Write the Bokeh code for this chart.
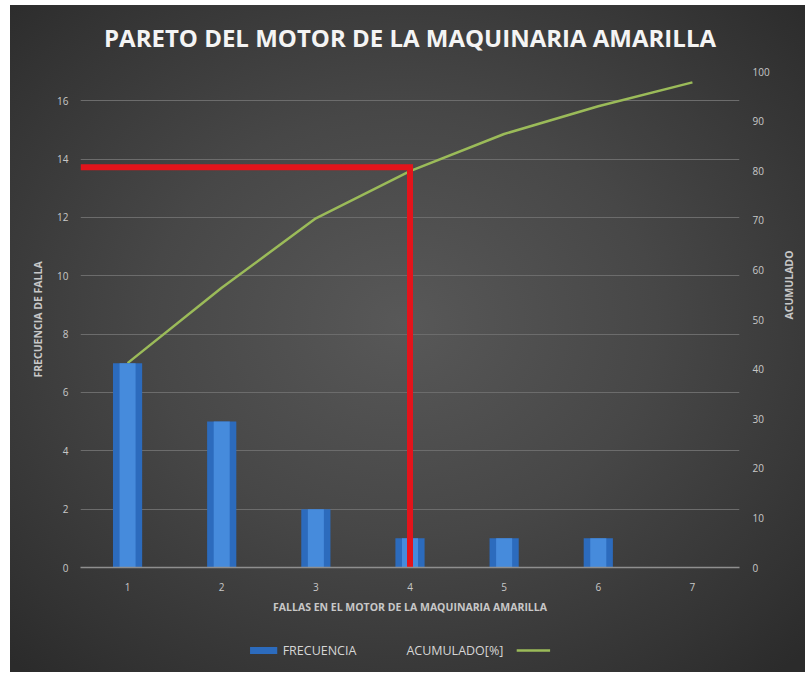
import math
from bokeh.plotting import figure
from bokeh.models import (Range1d, LinearAxis, FixedTicker, Legend, LegendItem)
from bokeh.layouts import column
from bokeh.embed import file_html
from bokeh.resources import INLINE

# ---- data ----
categories = [1, 2, 3, 4, 5, 6, 7]
frecuencia = [7, 5, 2, 1, 1, 1, 0]
acumulado = [41.2, 56.4, 70.4, 79.9, 87.4, 93.0, 97.8]
freq_ticks = [0, 2, 4, 6, 8, 10, 12, 14, 16]
pct_ticks = [0, 10, 20, 30, 40, 50, 60, 70, 80, 90, 100]
cut_x = 4
cut_pct = 80.7

FONT = "Open Sans"
TXT = "#c8c8c8"
BAR = "#2c6bbd"
BAR_HI = "#4b90e2"
GREEN = "#9bbb59"

p = figure(width=805, height=627, output_backend="svg", toolbar_location=None,
           x_range=Range1d(0.5, 7.5), y_range=Range1d(0, 17),
           min_border_left=80, min_border_right=66, min_border_top=70,
           min_border_bottom=60)
p.extra_y_ranges = {"pct": Range1d(0, 100)}
p.border_fill_color = None
p.background_fill_color = None
p.outline_line_color = None

# title
p.title.text = "PARETO DEL MOTOR DE LA MAQUINARIA AMARILLA"
p.title.align = "center"
p.title.text_font = FONT
p.title.text_font_size = "24px"
p.title.text_font_style = "bold"
p.title.text_color = "#f4f4f4"
p.title.standoff = 36

# bottom axis
xa = p.xaxis[0]
xa.ticker = FixedTicker(ticks=categories)
xa.axis_line_color = "#8f8f8f"
xa.axis_line_width = 1.5
xa.major_tick_line_color = None
xa.minor_tick_line_color = None
xa.major_tick_out = 0
xa.major_tick_in = 0
xa.major_label_text_color = TXT
xa.major_label_text_font = FONT
xa.major_label_text_font_size = "10px"
xa.major_label_standoff = 15
xa.axis_label = "FALLAS EN EL MOTOR DE LA MAQUINARIA AMARILLA"
xa.axis_label_text_font = FONT
xa.axis_label_text_font_size = "10.5px"
xa.axis_label_text_font_style = "bold"
xa.axis_label_text_color = TXT
xa.axis_label_standoff = 6

# left axis
ya = p.yaxis[0]
ya.ticker = FixedTicker(ticks=freq_ticks)
ya.axis_line_color = None
ya.major_tick_line_color = None
ya.minor_tick_line_color = None
ya.major_tick_out = 0
ya.major_tick_in = 0
ya.major_label_text_color = TXT
ya.major_label_text_font = FONT
ya.major_label_text_font_size = "10px"
ya.major_label_standoff = 12
ya.axis_label = "FRECUENCIA DE FALLA"
ya.axis_label_text_font = FONT
ya.axis_label_text_font_size = "10.5px"
ya.axis_label_text_font_style = "bold"
ya.axis_label_text_color = TXT
ya.axis_label_standoff = 9

# right axis
ra = LinearAxis(y_range_name="pct", ticker=FixedTicker(ticks=pct_ticks))
ra.axis_line_color = None
ra.major_tick_line_color = None
ra.minor_tick_line_color = None
ra.major_tick_out = 0
ra.major_tick_in = 0
ra.major_label_text_color = TXT
ra.major_label_text_font = FONT
ra.major_label_text_font_size = "10px"
ra.major_label_standoff = 13
ra.axis_label = "ACUMULADO"
ra.axis_label_text_font = FONT
ra.axis_label_text_font_size = "10.5px"
ra.axis_label_text_font_style = "bold"
ra.axis_label_text_color = TXT
ra.axis_label_standoff = 16
ra.axis_label_orientation = math.pi / 2
p.add_layout(ra, "right")

# grid
p.xgrid.grid_line_color = None
p.ygrid.ticker = FixedTicker(ticks=freq_ticks)
p.ygrid.grid_line_color = "#6c6c6c"
p.ygrid.grid_line_width = 1

# cumulative line (under bars)
p.line(categories, acumulado, y_range_name="pct", line_color=GREEN, line_width=2.5)

# bars
p.vbar(x=categories, top=frecuencia, width=0.31, fill_color=BAR, line_color=None)
p.vbar(x=categories, top=frecuencia, width=0.17, fill_color=BAR_HI, fill_alpha=0.85, line_color=None)

# red pareto marker
p.line([p.x_range.start, cut_x, cut_x], [cut_pct, cut_pct, 0], y_range_name="pct",
       line_color="#e3141b", line_width=6, line_join="miter")

# ---- legend strip (its glyphs lie outside its visible range; only the legend shows) ----
lf = figure(width=805, height=45, output_backend="svg", toolbar_location=None,
            x_range=Range1d(100, 101), y_range=Range1d(100, 101),
            x_axis_location=None, y_axis_location=None,
            min_border_left=0, min_border_right=0, min_border_top=0, min_border_bottom=0)
lf.grid.visible = False
lf.border_fill_color = None
lf.background_fill_color = None
lf.outline_line_color = None
leg_bar = lf.vbar(x=categories, top=frecuencia, width=0.3, fill_color=BAR, line_color=None)
leg_gap = lf.line(categories, acumulado, line_alpha=0)
leg_line = lf.line(categories, acumulado, line_color=GREEN, line_width=2.5)

legend = Legend(items=[
    LegendItem(label="FRECUENCIA", renderers=[leg_bar]),
    LegendItem(label="ACUMULADO[%]", renderers=[leg_gap]),
    LegendItem(label=" ", renderers=[leg_line]),
], orientation="horizontal", location="center")
legend.background_fill_alpha = 0
legend.border_line_color = None
legend.label_text_color = "#d6d6d6"
legend.label_text_font = FONT
legend.label_text_font_size = "12.5px"
legend.glyph_width = 34
legend.glyph_height = 9
legend.label_standoff = 3
legend.spacing = 13
legend.padding = 0
legend.margin = 0
lf.add_layout(legend, "center")

layout = column(p, lf, spacing=0)
layout.styles = {"background": (
    "linear-gradient(to right, #ffffff 10px, transparent 10px), "
    "linear-gradient(to bottom, #ffffff 5px, transparent 5px), "
    "radial-gradient(ellipse 70% 70% at 50% 48%, #585858 0%, #474747 45%, #333333 85%, #2b2b2b 100%)")}

open("out.html", "w").write(file_html(layout, INLINE))
